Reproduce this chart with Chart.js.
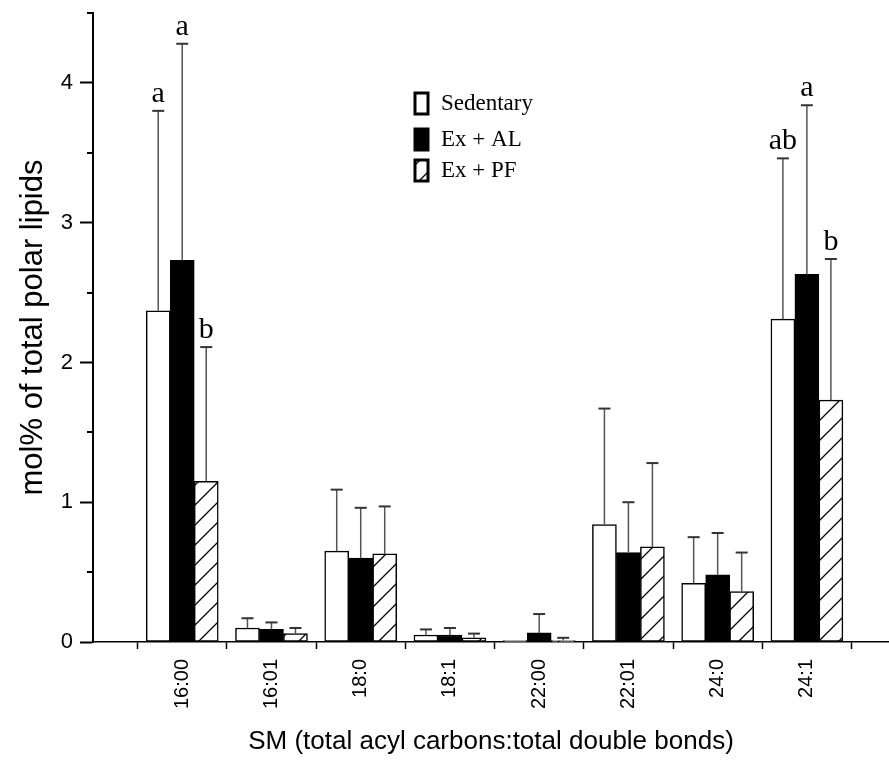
<!DOCTYPE html>
<html>
<head>
<meta charset="utf-8">
<script src="https://cdn.jsdelivr.net/npm/chart.js@4"></script>
<style>
  html, body { margin: 0; padding: 0; background: #fff; }
  #wrap { width: 889px; height: 760px; }
</style>
</head>
<body>
<div id="wrap"><canvas id="chart" width="889" height="760"></canvas></div>
<script>
// SM species on the x axis
const categories = ['16:00', '16:01', '18:0', '18:1', '22:00', '22:01', '24:0', '24:1'];
const seriesNames = ['Sedentary', 'Ex + AL', 'Ex + PF'];

// mean mol% values
const sedentary = [2.37, 0.10, 0.65, 0.05, 0.01, 0.84, 0.42, 2.31];
const exAL = [2.73, 0.09, 0.60, 0.05, 0.065, 0.64, 0.48, 2.63];
const exPF = [1.15, 0.06, 0.63, 0.03, 0.01, 0.68, 0.36, 1.73];

// upward error bars (SD)
const errSedentary = [1.43, 0.07, 0.44, 0.04, 0, 0.83, 0.33, 1.15];
const errExAL = [1.55, 0.05, 0.36, 0.05, 0.135, 0.36, 0.30, 1.21];
const errExPF = [0.96, 0.04, 0.34, 0.03, 0.02, 0.60, 0.28, 1.01];

// significance letters
const lettersSedentary = ['a', '', '', '', '', '', '', 'ab'];
const lettersExAL = ['a', '', '', '', '', '', '', 'a'];
const lettersExPF = ['b', '', '', '', '', '', '', 'b'];

const yTicks = [0, 0.5, 1, 1.5, 2, 2.5, 3, 3.5, 4, 4.5];

function hatchPattern() {
    const c = document.createElement('canvas');
    c.width = 20;
    c.height = 20;
    const g = c.getContext('2d');
    g.fillStyle = '#fff';
    g.fillRect(0, 0, 20, 20);
    g.strokeStyle = '#000';
    g.lineWidth = 1.3;
    g.beginPath();
    g.moveTo(-2, 22); g.lineTo(22, -2);
    g.moveTo(-2, 2); g.lineTo(2, -2);
    g.moveTo(18, 22); g.lineTo(22, 18);
    g.stroke();
    return g.createPattern(c, 'repeat');
}

const hatch = hatchPattern();
const toPoints = arr => arr.map((v, i) => ({ x: i, y: v }));
const isMajor = c => !!(c && c.tick && Number.isInteger(c.tick.value));

const errorBars = {
    id: 'errorBars',
    afterDatasetsDraw(chart) {
        const ctx = chart.ctx;
        const y = chart.scales.y;
        chart.data.datasets.forEach((ds, di) => {
            const meta = chart.getDatasetMeta(di);
            meta.data.forEach((bar, i) => {
                const err = ds.err[i];
                const topY = y.getPixelForValue(ds.data[i].y + err);
                ctx.save();
                if (err > 0) {
                    ctx.strokeStyle = '#555';
                    ctx.lineWidth = 1.5;
                    ctx.beginPath();
                    ctx.moveTo(bar.x, bar.y);
                    ctx.lineTo(bar.x, topY);
                    ctx.stroke();
                    ctx.strokeStyle = '#333';
                    ctx.lineWidth = 2;
                    ctx.beginPath();
                    ctx.moveTo(bar.x - 6, topY);
                    ctx.lineTo(bar.x + 6, topY);
                    ctx.stroke();
                }
                if (ds.letters[i]) {
                    ctx.fillStyle = '#000';
                    ctx.font = '30px "Liberation Serif"';
                    ctx.textAlign = 'center';
                    ctx.textBaseline = 'alphabetic';
                    ctx.fillText(ds.letters[i], bar.x, topY - 9);
                }
                ctx.restore();
            });
        });
    }
};

const minorTicks = {
    id: 'minorTicks',
    afterDraw(chart) {
        const ctx = chart.ctx;
        const y = chart.scales.y;
        ctx.save();
        ctx.strokeStyle = '#000';
        ctx.lineWidth = 2;
        yTicks.filter(v => !Number.isInteger(v)).forEach(v => {
            const py = Math.round(y.getPixelForValue(v));
            ctx.beginPath();
            ctx.moveTo(y.right - 6, py);
            ctx.lineTo(y.right, py);
            ctx.stroke();
        });
        ctx.restore();
    }
};

const boxLegend = {
    id: 'boxLegend',
    afterDraw(chart) {
        const ctx = chart.ctx;
        const rows = [103, 139, 170];
        ctx.save();
        chart.data.datasets.forEach((ds, i) => {
            const cy = rows[i];
            ctx.fillStyle = ds.backgroundColor;
            ctx.fillRect(415, cy - 10, 13, 21);
            ctx.strokeStyle = '#000';
            ctx.lineWidth = 3;
            ctx.strokeRect(415, cy - 10, 13, 21);
            ctx.fillStyle = '#000';
            ctx.font = '23px "Liberation Serif"';
            ctx.textAlign = 'left';
            ctx.textBaseline = 'middle';
            ctx.fillText(ds.label, 441, cy + 1);
        });
        ctx.restore();
    }
};

const xTickValues = [];
categories.forEach((c, i) => { xTickValues.push(i - 0.5, i); });
xTickValues.push(categories.length - 0.5);

new Chart(document.getElementById('chart'), {
    type: 'bar',
    data: {
        datasets: [
            { label: seriesNames[0], data: toPoints(sedentary), err: errSedentary, letters: lettersSedentary, backgroundColor: '#fff' },
            { label: seriesNames[1], data: toPoints(exAL), err: errExAL, letters: lettersExAL, backgroundColor: '#000' },
            { label: seriesNames[2], data: toPoints(exPF), err: errExPF, letters: lettersExPF, backgroundColor: hatch }
        ]
    },
    options: {
        responsive: false,
        animation: false,
        devicePixelRatio: 1,
        layout: { padding: { top: 13, right: 0, bottom: 0, left: 0 } },
        datasets: {
            bar: {
                borderColor: '#000',
                borderWidth: 1.5,
                borderSkipped: false,
                barThickness: 24
            }
        },
        plugins: {
            legend: { display: false },
            tooltip: { enabled: false }
        },
        scales: {
            x: {
                type: 'linear',
                min: -1,
                max: 7.92,
                offset: false,
                afterBuildTicks: axis => { axis.ticks = xTickValues.map(v => ({ value: v })); },
                afterFit: axis => { axis.height = 118; },
                border: { color: '#000', width: 1.5 },
                grid: {
                    offset: false,
                    drawOnChartArea: false,
                    tickLength: 7,
                    tickWidth: 1.5,
                    tickColor: c => isMajor(c) ? 'rgba(0,0,0,0)' : '#000'
                },
                ticks: {
                    autoSkip: false,
                    minRotation: 90,
                    maxRotation: 90,
                    padding: 10,
                    color: '#000',
                    font: { family: 'Liberation Sans', size: 20 },
                    callback: v => Number.isInteger(v) ? categories[v] : ''
                },
                title: {
                    display: true,
                    text: 'SM (total acyl carbons:total double bonds)',
                    color: '#000',
                    font: { family: 'Liberation Sans', size: 26 },
                    padding: { top: 0, bottom: 3 }
                }
            },
            y: {
                min: 0,
                max: 4.5,
                afterBuildTicks: axis => { axis.ticks = yTicks.map(v => ({ value: v })); },
                afterFit: axis => { axis.width = 93; },
                border: { color: '#000', width: 2 },
                grid: {
                    drawOnChartArea: false,
                    tickLength: 13,
                    tickWidth: 2,
                    tickColor: c => isMajor(c) ? '#000' : 'rgba(0,0,0,0)'
                },
                ticks: {
                    padding: 7,
                    color: '#000',
                    font: { family: 'Liberation Sans', size: 22, lineHeight: 0.5 },
                    callback: v => Number.isInteger(v) ? String(v) : ''
                },
                title: {
                    display: true,
                    text: 'mol% of total polar lipids',
                    color: '#000',
                    font: { family: 'Liberation Sans', size: 31 },
                    padding: { top: 15, bottom: 0 }
                }
            }
        }
    },
    plugins: [errorBars, minorTicks, boxLegend]
});
</script>
</body>
</html>
